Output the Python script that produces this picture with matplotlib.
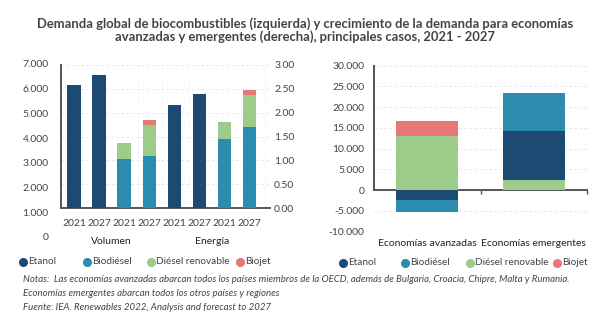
import numpy as np
import matplotlib.pyplot as plt
from matplotlib.lines import Line2D
import matplotlib.transforms as mtransforms

plt.rcParams['font.family'] = ['Lato', 'DejaVu Sans']

# colores por combustible
c_etanol = '#1c4a72'
c_biodiesel = '#2b8cb0'
c_renov = '#9dcb8a'
c_biojet = '#e87777'

# --- panel izquierdo: demanda global (escala derecha 0-3) ---
years = ['2021', '2027', '2021', '2027', '2021', '2027', '2021', '2027']
groups = ['Volumen', 'Energía']
etanol = [2.59, 2.80, 0, 0, 2.17, 2.40, 0, 0]
biodiesel = [0, 0, 1.03, 1.09, 0, 0, 1.45, 1.70]
renovable = [0, 0, 0.33, 0.66, 0, 0, 0.35, 0.68]
biojet = [0, 0, 0, 0.10, 0, 0, 0, 0.10]
left_ticks = [0, 1000, 2000, 3000, 4000, 5000, 6000, 7000]
right_ticks = [0.0, 0.5, 1.0, 1.5, 2.0, 2.5, 3.0]

# --- panel derecho: crecimiento de la demanda ---
economias = ['Economías avanzadas', 'Economías emergentes']
g_etanol = [-2400, 11850]
g_biodiesel = [-2750, 9280]
g_renovable = [13060, 2400]
g_biojet = [3550, 0]
growth_ticks = [-10000, -5000, 0, 5000, 10000, 15000, 20000, 25000, 30000]

W, H = 610, 328
fig = plt.figure(figsize=(W / 100, H / 100), dpi=100)

def fx(px):
    return px / W

def fy(py):
    return 1 - py / H

gray = '#444444'
spine_c = '#555555'
grid_c = '#e2e2e2'

fig.text(0.5, fy(24), 'Demanda global de biocombustibles (izquierda) y crecimiento de la demanda para economías',
         ha='center', va='center', fontsize=9.4, color=gray, fontweight='bold')
fig.text(0.5, fy(37), 'avanzadas y emergentes (derecha), principales casos, 2021 - 2027',
         ha='center', va='center', fontsize=9.4, color=gray, fontweight='bold')

# panel izquierdo
ax = fig.add_axes([fx(61), fy(208), fx(270 - 61), fy(65) - fy(208)])
x = np.arange(len(years))
w = 0.54
ax.bar(x, etanol, w, color=c_etanol, zorder=3)
ax.bar(x, biodiesel, w, color=c_biodiesel, zorder=3)
b2 = np.array(biodiesel)
ax.bar(x, renovable, w, bottom=b2, color=c_renov, zorder=3)
b3 = b2 + np.array(renovable)
ax.bar(x, biojet, w, bottom=b3, color=c_biojet, zorder=3)
ax.set_xlim(-0.52, 7.81)
ax.set_ylim(0, 3.0)
ax.set_yticks(right_ticks)
ax.yaxis.tick_right()
ax.set_yticklabels(['%.2f' % v for v in right_ticks])
ax.tick_params(axis='y', length=0, pad=3, labelsize=7.5, labelcolor=gray)
ax.set_xticks(x)
ax.set_xticklabels(years)
ax.tick_params(axis='x', length=0, pad=8, labelsize=7.5, labelcolor=gray)
for s in ['top', 'right']:
    ax.spines[s].set_visible(False)
for s in ['left', 'bottom']:
    ax.spines[s].set_color(spine_c)
    ax.spines[s].set_linewidth(1.4)
ax.grid(axis='y', color=grid_c, linestyle=(0, (3, 3)), linewidth=0.6, zorder=0)
for xv in [2.55, 3.5, 4.6, 7.6]:
    ax.axvline(xv, color='#f0f0f0', linestyle=(0, (3, 3)), linewidth=0.6, zorder=0)

trans = mtransforms.blended_transform_factory(ax.transData, fig.transFigure)
for i, g in enumerate(groups):
    ax.text(1.5 + 4 * i, fy(242), g, transform=trans, ha='center', va='center',
            fontsize=7.5, color='#222222')

# escala izquierda (volumen)
axl = fig.add_axes([fx(61), fy(237), 0.0001, fy(64) - fy(237)])
axl.set_ylim(0, 7000)
axl.set_yticks(left_ticks)
axl.set_yticklabels(['0' if v == 0 else '{:,}'.format(v).replace(',', '.') for v in left_ticks])
axl.tick_params(axis='y', length=0, pad=9, labelsize=7.5, labelcolor=gray)
axl.set_xticks([])
for s in axl.spines.values():
    s.set_visible(False)
axl.patch.set_visible(False)

# panel derecho
ax2 = fig.add_axes([fx(374), fy(231.7), fx(587 - 374), fy(65.7) - fy(231.7)])
xe = np.arange(len(economias))
w2 = 0.58
pos_ren = np.array(g_renovable)
ax2.bar(xe, g_renovable, w2, color=c_renov, zorder=3)
emerg_et = np.where(np.array(g_etanol) > 0, pos_ren, 0)
ax2.bar(xe, g_etanol, w2, bottom=emerg_et, color=c_etanol, zorder=3)
pos_top = pos_ren + np.clip(g_etanol, 0, None)
neg_bot = np.clip(g_etanol, None, 0)
bio_bottom = np.where(np.array(g_biodiesel) > 0, pos_top, neg_bot)
ax2.bar(xe, g_biodiesel, w2, bottom=bio_bottom, color=c_biodiesel, zorder=3)
ax2.bar(xe, g_biojet, w2, bottom=pos_top, color=c_biojet, zorder=3)
ax2.set_xlim(-0.5, 1.5)
ax2.set_ylim(-10000, 30000)
ax2.set_yticks(growth_ticks)
ax2.set_yticklabels(['0' if v == 0 else '{:,}'.format(v).replace(',', '.') for v in growth_ticks])
ax2.tick_params(axis='y', length=0, pad=7, labelsize=7.5, labelcolor=gray)
ax2.set_xticks([0.5, 1.5])
ax2.set_xticklabels([])
ax2.tick_params(axis='x', direction='out', length=3, width=1, color=spine_c)
ax2.spines['bottom'].set_position(('data', 0))
ax2.spines['left'].set_bounds(0, 30000)
for s in ['top', 'right']:
    ax2.spines[s].set_visible(False)
for s in ['left', 'bottom']:
    ax2.spines[s].set_color(spine_c)
    ax2.spines[s].set_linewidth(1.4)
ax2.grid(axis='y', color=grid_c, linestyle=(0, (3, 3)), linewidth=0.6, zorder=0)
trans2 = mtransforms.blended_transform_factory(ax2.transData, fig.transFigure)
for i, e in enumerate(economias):
    ax2.text(xe[i], fy(243), e, transform=trans2, ha='center', va='center',
             fontsize=7.5, color='#222222')

# leyendas
names = ['Etanol', 'Biodiésel', 'Diésel renovable', 'Biojet']
cols = [c_etanol, c_biodiesel, c_renov, c_biojet]

def legend_row(xs, y):
    for xp, n, c in zip(xs, names, cols):
        fig.add_artist(Line2D([fx(xp)], [fy(y)], marker='o', markersize=5.5,
                              color=c, linestyle='', transform=fig.transFigure))
        fig.text(fx(xp + 5), fy(y), n, ha='left', va='center', fontsize=7.2, color=gray)

legend_row([23, 87, 151, 240], 261.5)
legend_row([343, 405, 470, 557], 262.5)

notes = ['Notas:  Las economías avanzadas abarcan todos los países miembros de la OECD, además de Bulgaria, Croacia, Chipre, Malta y Rumania.',
         'Economías emergentes abarcan todos los otros países y regiones',
         'Fuente: IEA. Renewables 2022, Analysis and forecast to 2027']
for i, t in enumerate(notes):
    fig.text(fx(23), fy(280 + 14 * i), t, ha='left', va='center', fontsize=6.9,
             style='italic', color=gray)

fig.savefig('out.png', dpi=100)
